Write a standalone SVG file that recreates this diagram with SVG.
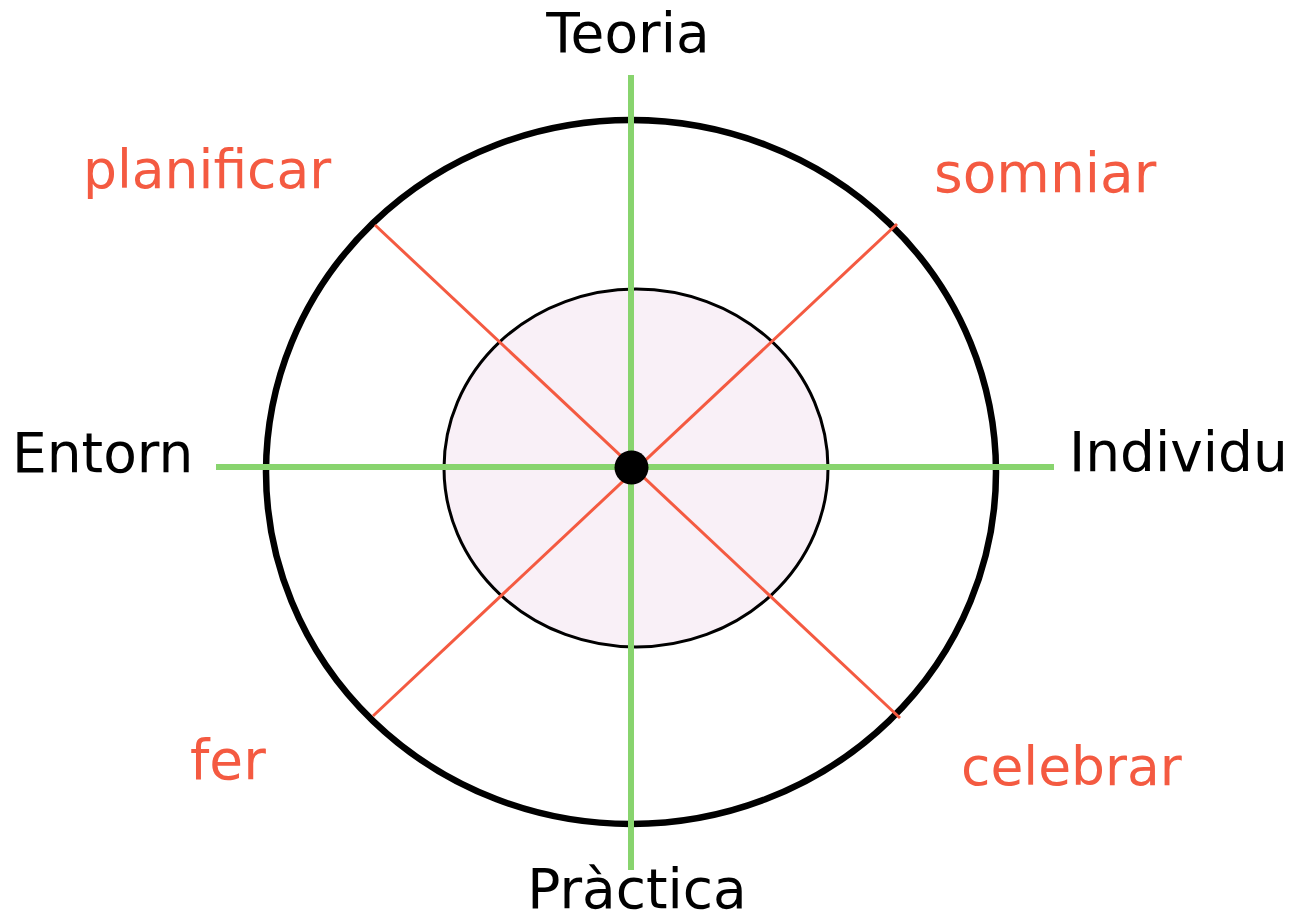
<svg xmlns="http://www.w3.org/2000/svg" width="1293" height="922" viewBox="0 0 1293 922">
<style>
.lbl{font-family:"DejaVu Sans","Verdana",sans-serif;font-size:55px}
.blk{fill:#000}
.red{fill:#f45a41}
.axis{stroke:#88d46e;stroke-width:6;fill:none}
.diag{stroke:#f45a41;stroke-width:3;fill:none}
</style>
<rect width="1293" height="922" fill="#fff"/>
<g id="outer"><ellipse cx="631" cy="472" rx="365" ry="352" fill="none" stroke="#000" stroke-width="6.5"/></g>
<g id="inner"><ellipse cx="636" cy="468" rx="192" ry="179" fill="#f9f0f7" stroke="#000" stroke-width="3"/></g>
<g id="connectors">
<line class="diag" x1="375" y1="225" x2="900" y2="718"/>
<line class="diag" x1="897" y1="224" x2="373" y2="716"/>
<line class="axis" x1="631" y1="75" x2="631" y2="870"/>
<line class="axis" x1="216" y1="467" x2="1054" y2="467"/>
</g>
<g id="center"><circle cx="631.5" cy="467.5" r="17" fill="#000"/></g>
<g id="teoria"><text class="lbl blk" x="628" y="52" text-anchor="middle">Teoria</text></g>
<g id="practica"><text class="lbl blk" x="637" y="908" text-anchor="middle">Pràctica</text></g>
<g id="entorn"><text class="lbl blk" x="12" y="472">Entorn</text></g>
<g id="individu"><text class="lbl blk" x="1069" y="471">Individu</text></g>
<g id="planificar"><text class="lbl red" x="83" y="188" style="font-size:53.5px">planificar</text></g>
<g id="somniar"><text class="lbl red" x="934" y="192">somniar</text></g>
<g id="fer"><text class="lbl red" x="190" y="779">fer</text></g>
<g id="celebrar"><text class="lbl red" x="961" y="785" style="font-size:53.5px">celebrar</text></g>
</svg>
